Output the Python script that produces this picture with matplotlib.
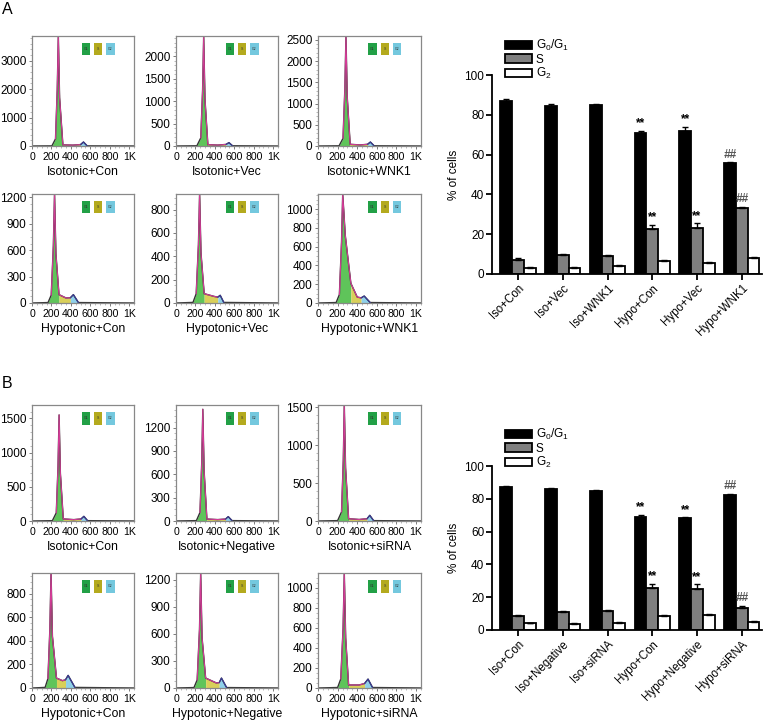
import matplotlib
matplotlib.use("Agg")
import matplotlib.pyplot as plt
from matplotlib.patches import Rectangle

plt.rcParams['font.family'] = ['Liberation Sans', 'DejaVu Sans']
plt.rcParams['mathtext.fontset'] = 'custom'
plt.rcParams['mathtext.rm'] = 'Liberation Sans'
plt.rcParams['mathtext.it'] = 'Liberation Sans:italic'

# ---- histogram panels (DNA content), knots ----
hist_titles = ['Isotonic+Con', 'Isotonic+Vec', 'Isotonic+WNK1',
               'Hypotonic+Con', 'Hypotonic+Vec', 'Hypotonic+WNK1',
               'Isotonic+Con', 'Isotonic+Negative', 'Isotonic+siRNA',
               'Hypotonic+Con', 'Hypotonic+Negative', 'Hypotonic+siRNA']
hist_ytop = [3870, 2450, 2590, 1238, 934, 1161,
             1695, 1491, 1531, 974, 1273, 1148]
hist_yticks = [[0, 1000, 2000, 3000], [0, 500, 1000, 1500, 2000],
               [0, 500, 1000, 1500, 2000, 2500], [0, 300, 600, 900, 1200],
               [0, 200, 400, 600, 800], [0, 200, 400, 600, 800, 1000],
               [0, 500, 1000, 1500], [0, 300, 600, 900, 1200],
               [0, 500, 1000, 1500], [0, 200, 400, 600, 800],
               [0, 300, 600, 900, 1200], [0, 200, 400, 600, 800, 1000]]
hist_x = [[0, 205, 242, 260, 271, 284, 318, 420, 500, 530, 568, 1050],
          [0, 215, 255, 274, 285, 298, 328, 430, 515, 545, 582, 1050],
          [0, 215, 255, 274, 285, 298, 328, 430, 505, 534, 572, 1050],
          [0, 165, 198, 220, 232, 246, 278, 350, 395, 426, 478, 1050],
          [0, 175, 208, 231, 243, 257, 290, 390, 430, 455, 492, 1050],
          [0, 185, 218, 240, 252, 278, 335, 400, 440, 471, 532, 1050],
          [0, 210, 250, 268, 279, 292, 322, 430, 505, 534, 572, 1050],
          [0, 210, 247, 265, 276, 289, 318, 430, 510, 538, 577, 1050],
          [0, 200, 240, 258, 268, 281, 312, 420, 500, 528, 567, 1050],
          [0, 135, 164, 184, 196, 210, 252, 314, 345, 372, 442, 1050],
          [0, 185, 218, 242, 254, 268, 305, 417, 445, 468, 521, 1050],
          [0, 200, 232, 256, 268, 282, 312, 419, 475, 510, 556, 1050]]
hist_y = [[0, 5, 250, 2000, 3870, 1700, 40, 30, 50, 140, 5, 0],
          [0, 5, 180, 1250, 2450, 1050, 30, 20, 35, 75, 5, 0],
          [0, 5, 180, 1350, 2590, 1150, 40, 25, 40, 93, 5, 0],
          [0, 5, 90, 650, 1238, 560, 95, 57, 60, 95, 5, 0],
          [0, 5, 80, 500, 934, 430, 80, 57, 50, 66, 5, 0],
          [0, 5, 90, 650, 1161, 720, 210, 63, 55, 74, 5, 0],
          [0, 5, 120, 800, 1550, 700, 30, 20, 30, 68, 5, 0],
          [0, 5, 110, 750, 1436, 650, 25, 18, 25, 56, 5, 0],
          [0, 5, 120, 800, 1531, 700, 30, 20, 30, 75, 5, 0],
          [0, 5, 80, 500, 974, 440, 84, 62, 70, 107, 5, 0],
          [0, 5, 90, 650, 1273, 560, 110, 55, 60, 110, 5, 0],
          [0, 5, 90, 600, 1148, 500, 30, 30, 45, 89, 5, 0]]
xtick_vals = [0, 200, 400, 600, 800, 1000]
xtick_labels = ['0', '200', '400', '600', '800', '1K']

# ---- bar charts ----
groups_a = ['Iso+Con', 'Iso+Vec', 'Iso+WNK1', 'Hypo+Con', 'Hypo+Vec', 'Hypo+WNK1']
g01_a = [87.0, 84.6, 84.8, 70.8, 72.1, 55.6]
s_a = [7.2, 9.3, 8.9, 22.6, 23.1, 33.0]
g2_a = [3.2, 3.2, 3.8, 6.3, 5.4, 8.2]
g01_err_a = [0.8, 0.7, 0.5, 1.3, 1.8, 0.6]
s_err_a = [0.6, 0.7, 0.6, 2.2, 2.3, 0.8]
g2_err_a = [0.5, 0.4, 0.5, 0.5, 0.5, 0.4]
g01_mark_a = ['', '', '', '**', '**', '##']
s_mark_a = ['', '', '', '**', '**', '##']

groups_b = ['Iso+Con', 'Iso+Negative', 'Iso+siRNA', 'Hypo+Con', 'Hypo+Negative', 'Hypo+siRNA']
g01_b = [87.2, 86.0, 85.0, 69.2, 68.1, 82.3]
s_b = [8.6, 11.0, 11.3, 25.6, 25.2, 13.3]
g2_b = [4.0, 3.6, 4.5, 8.8, 9.1, 5.0]
g01_err_b = [0.5, 0.6, 0.4, 1.2, 0.8, 0.8]
s_err_b = [0.8, 0.8, 0.6, 2.5, 2.7, 1.6]
g2_err_b = [0.4, 0.4, 0.5, 0.4, 0.4, 0.5]
g01_mark_b = ['', '', '', '**', '**', '##']
s_mark_b = ['', '', '', '**', '**', '##']

W, H = 769, 724
fig = plt.figure(figsize=(W / 100, H / 100), dpi=100)


def px_axes(left, top, right, bottom):
    return fig.add_axes([left / W, 1 - bottom / H, (right - left) / W, (bottom - top) / H])


# pixel boxes of the 12 histogram panels
col_lr = [(32, 134), (176, 278), (318, 421)]
row_tb = [(36, 146), (194, 303), (405, 521), (573, 688)]

GREEN = '#5fc45a'
YELLOW = '#d9cf5a'
BLUE = '#8fd0ea'
LEG_COLS = ['#22a046', '#b4aa1e', '#74c8de']
LEG_TXT = ['G1', 'S', 'G2']

for i in range(12):
    r, c = divmod(i, 3)
    l, rr = col_lr[c]
    t, b = row_tb[r]
    ax = px_axes(l, t, rr, b)
    xs, ys = hist_x[i], hist_y[i]
    ax.fill_between(xs[0:7], ys[0:7], color=GREEN, lw=0)
    ax.fill_between(xs[6:9], ys[6:9], color=YELLOW, lw=0)
    ax.fill_between(xs[8:11], ys[8:11], color=BLUE, lw=0)
    ax.plot(xs, ys, color='#333333', lw=1.0)
    ax.plot(xs[2:9], ys[2:9], color='#d23c96', lw=0.8)
    ax.plot(xs[8:11], ys[8:11], color='#3a3a9a', lw=0.8)
    ax.set_xlim(0, 1050)
    ax.set_ylim(0, hist_ytop[i])
    ax.set_xticks(xtick_vals)
    ax.set_xticklabels(xtick_labels)
    ax.set_yticks(hist_yticks[i])
    ax.minorticks_on()
    ax.tick_params(which='major', labelsize=8.5, length=2.5, width=0.6, color='#666666', pad=1.5)
    ax.tick_params(axis='x', which='major', labelsize=7.6)
    ax.tick_params(which='minor', length=1.5, width=0.4, color='#888888')
    for sp in ax.spines.values():
        sp.set_color('#888888')
        sp.set_linewidth(0.9)
    for k in range(3):
        ax.add_patch(Rectangle((0.49 + k * 0.12, 0.83), 0.08, 0.11, transform=ax.transAxes,
                               facecolor=LEG_COLS[k], edgecolor='none'))
        ax.text(0.53 + k * 0.12, 0.885, LEG_TXT[k], transform=ax.transAxes, fontsize=2.5,
                ha='center', va='center', color='#333333')
    fig.text((l + rr) / 2 / W, 1 - (b + 26) / H, hist_titles[i], fontsize=8.8,
             ha='center', va='center')

fig.text(7 / W, 1 - 9 / H, 'A', fontsize=11.5, ha='center', va='center')
fig.text(7 / W, 1 - 383 / H, 'B', fontsize=11.5, ha='center', va='center')


def bar_panel(ax, groups, g01, s, g2, e01, es, e2, m01, ms, leg_top):
    pos = range(len(groups))
    w = 0.262
    kw = dict(edgecolor='black', linewidth=1.3, error_kw=dict(ecolor='black', elinewidth=1.0,
                                                              capsize=2.5, capthick=1.0))
    ax.bar([p - w for p in pos], g01, w, yerr=[[0] * 6, e01], color='black', label='G$_0$/G$_1$', **kw)
    ax.bar(list(pos), s, w, yerr=[[0] * 6, es], color='#7f7f7f', label='S', **kw)
    ax.bar([p + w for p in pos], g2, w, yerr=[[0] * 6, e2], color='white', label='G$_2$', **kw)
    for p in pos:
        if m01[p]:
            st = 'italic' if m01[p] == '##' else 'normal'
            col = '#555555' if m01[p] == '##' else 'black'
            ax.text(p - w, g01[p] + e01[p] + 0.8, m01[p], ha='center', va='bottom',
                    fontsize=8.5, fontstyle=st, color=col, fontweight='bold')
        if ms[p]:
            st = 'italic' if ms[p] == '##' else 'normal'
            col = '#555555' if ms[p] == '##' else 'black'
            ax.text(p, s[p] + es[p] + 0.8, ms[p], ha='center', va='bottom',
                    fontsize=8.5, fontstyle=st, color=col, fontweight='bold')
    ax.set_xlim(-0.58, 5.45)
    ax.set_ylim(0, 100)
    ax.set_yticks([0, 20, 40, 60, 80, 100])
    ax.set_xticks(list(pos))
    ax.set_xticklabels(groups, rotation=45, ha='right', rotation_mode='anchor', fontsize=8.3)
    ax.tick_params(axis='y', labelsize=8.5, width=1.3, length=4, pad=1.5)
    ax.tick_params(axis='x', width=1.3, length=4, pad=2)
    ax.spines['top'].set_visible(False)
    ax.spines['right'].set_visible(False)
    ax.spines['left'].set_linewidth(1.3)
    ax.spines['bottom'].set_linewidth(1.3)
    ax.set_ylabel('% of cells', fontsize=8.5, labelpad=3)
    ax.legend(loc='upper left', bbox_to_anchor=(505 / W, 1 - leg_top / H),
              bbox_transform=fig.transFigure, frameon=False, fontsize=8.5,
              handlelength=2.3, handleheight=0.7, handletextpad=0.3, labelspacing=0.05,
              borderpad=0, borderaxespad=0)


axA = px_axes(492, 75, 762, 274)
bar_panel(axA, groups_a, g01_a, s_a, g2_a, g01_err_a, s_err_a, g2_err_a, g01_mark_a, s_mark_a, 38)
axB = px_axes(492, 466, 762, 630)
bar_panel(axB, groups_b, g01_b, s_b, g2_b, g01_err_b, s_err_b, g2_err_b, g01_mark_b, s_mark_b, 427)

fig.savefig('out.png', dpi=100)
